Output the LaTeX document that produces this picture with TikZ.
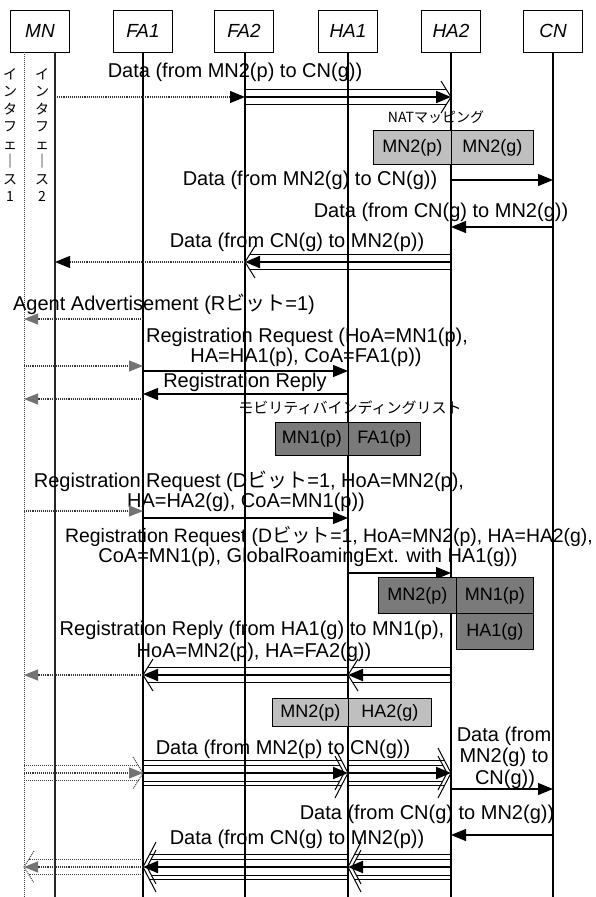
\documentclass[tikz,border=0pt]{standalone}
\usepackage{fontspec}
\setmainfont{Liberation Sans}
\newfontfamily\jp{Noto Sans CJK JP}
\usetikzlibrary{arrows.meta}
\newcommand\jt[1]{{\jp #1}}
\begin{document}
\begin{tikzpicture}[x=1pt,y=1pt,
  hdr/.style={draw, line width=0.9pt, minimum width=59pt, minimum height=42pt, inner sep=0pt, font=\fontsize{19}{20}\selectfont\itshape},
  life/.style={line width=1.2pt},
  ifline/.style={line width=1pt, densely dotted, black!75},
  lbl/.style={font=\fontsize{20}{22}\selectfont, inner sep=0pt, anchor=base},
  jlbl/.style={font=\jp\fontsize{14}{16}\selectfont, inner sep=0pt},
  vlbl/.style={font=\jp\fontsize{14}{17.5}\selectfont, inner sep=0pt, align=center, anchor=north},
  msg/.style={line width=1.2pt, -{Triangle[length=15pt,width=12pt]}},
  tmsg/.style={line width=2pt, -{Triangle[length=15pt,width=12pt]}},
  dmsg/.style={line width=1.1pt, densely dotted, black!80, -{Triangle[length=15pt,width=12pt,color=black,fill=black]}},
  gmsg/.style={line width=1.1pt, densely dotted, black!80, -{Triangle[length=14pt,width=11pt,color=black!55,fill=black!55]}},
  tunl/.style={line width=1pt},
  lcell/.style={draw, line width=0.8pt, fill=black!25, anchor=north west, inner sep=0pt, font=\fontsize{18}{20}\selectfont},
  dcell/.style={draw, line width=0.8pt, fill=black!52, anchor=north west, inner sep=0pt, font=\fontsize{18}{20}\selectfont}
]
\newcommand\tun[5][]{%
  \draw[tunl,#1] ([yshift=7.5pt]#2|-0,-#4) -- ([yshift=7.5pt,xshift={-(#5)*4.7pt}]#3|-0,-#4);
  \draw[tunl,#1] ([yshift=-7.5pt]#2|-0,-#4) -- ([yshift=-7.5pt,xshift={-(#5)*4.7pt}]#3|-0,-#4);
  \draw[tunl,#1] ([yshift=16pt,xshift={-(#5)*10pt}]#3|-0,-#4) -- (#3|-0,-#4) -- ([yshift=-16pt,xshift={-(#5)*10pt}]#3|-0,-#4);
}
\newcommand\btun[4]{%
  \draw[tunl] ([yshift=12.5pt]#1|-0,-#3) -- ([yshift=12.5pt,xshift={-(#4)*6.5pt}]#2|-0,-#3);
  \draw[tunl] ([yshift=-12.5pt]#1|-0,-#3) -- ([yshift=-12.5pt,xshift={-(#4)*6.5pt}]#2|-0,-#3);
  \draw[tunl] ([yshift=25pt,xshift={-(#4)*13pt}]#2|-0,-#3) -- (#2|-0,-#3) -- ([yshift=-25pt,xshift={-(#4)*13pt}]#2|-0,-#3);
  \draw[tunl] ([yshift=8pt]#1|-0,-#3) -- ([yshift=8pt,xshift={-(#4)*8.2pt}]#2|-0,-#3);
  \draw[tunl] ([yshift=-8pt]#1|-0,-#3) -- ([yshift=-8pt,xshift={-(#4)*8.2pt}]#2|-0,-#3);
  \draw[tunl] ([yshift=17pt,xshift={-(#4)*13pt}]#2|-0,-#3) -- ([xshift={-(#4)*4pt}]#2|-0,-#3) -- ([yshift=-17pt,xshift={-(#4)*13pt}]#2|-0,-#3);
  \draw[tmsg] (#1|-0,-#3) -- (#2|-0,-#3);
}
\fill[white] (0,0) rectangle (595,-897);
\useasboundingbox (0,0) rectangle (595,-897);

% headers
\node[hdr] (MN)  at (40,-31)  {MN};
\node[hdr] (FA1) at (143,-31) {FA1};
\node[hdr] (FA2) at (244,-31) {FA2};
\node[hdr] (HA1) at (348,-31) {HA1};
\node[hdr] (HA2) at (451,-31) {HA2};
\node[hdr] (CN)  at (553,-31) {CN};

\coordinate (lMN1) at (24,-52);
\coordinate (lMN2) at (55,-52);
\coordinate (lFA1) at (143,-52);
\coordinate (lFA2) at (245,-52);
\coordinate (lHA1) at (348,-52);
\coordinate (lHA2) at (451,-52);
\coordinate (lCN)  at (553,-52);

% lifelines
\draw[ifline] (lMN1) -- (lMN1|-0,-897);
\draw[line width=1.2pt, black!85] (lMN2) -- (lMN2|-0,-897);
\foreach \l in {lFA1,lFA2,lHA1,lHA2,lCN}{\draw[life] (\l) -- (\l|-0,-897);}

% vertical interface labels
\node[vlbl] (v1) at (10,-68) {イ\\ン\\タ\\フ\\ェ\\｜\\ス\\1};
\node[vlbl] (v2) at (42,-68) {イ\\ン\\タ\\フ\\ェ\\｜\\ス\\2};

% row 1
\node[lbl] (t1) at (235,-77) {Data (from MN2(p) to CN(g))};
\draw[dmsg] (lMN2|-0,-97) -- (lFA2|-0,-97);
\tun{lFA2}{lHA2}{97}{1}
\draw[tmsg] (lFA2|-0,-97) -- (lHA2|-0,-97);

% NAT mapping
\node[jlbl] (tNAT) at (436,-117) {NATマッピング};
\node[lcell, minimum width=78pt, minimum height=34pt] (natL) at (373,-130) {MN2(p)};
\node[lcell, minimum width=82pt, minimum height=34pt] (natR) at (451,-130) {MN2(g)};

\node[lbl] (t2) at (310,-185) {Data (from MN2(g) to CN(g))};
\draw[msg] (lHA2|-0,-180) -- (lCN|-0,-180);
\node[lbl] (t3) at (441,-217) {Data (from CN(g) to MN2(g))};
\draw[msg] (lCN|-0,-227) -- (lHA2|-0,-227);

\node[lbl] (t4) at (297,-247) {Data (from CN(g) to MN2(p))};
\tun{lHA2}{lFA2}{262}{-1}
\draw[tmsg] (lHA2|-0,-262) -- (lFA2|-0,-262);
\draw[dmsg] (lFA2|-0,-262) -- (lMN2|-0,-262);

% registration 1
\node[lbl] (t5) at (164,-310) {Agent Advertisement (R\jt{ビット}=1)};
\draw[gmsg] (lFA1|-0,-319) -- (lMN1|-0,-319);
\node[lbl] (t6a) at (307,-342) {Registration Request (HoA=MN1(p),};
\node[lbl] (t6b) at (306,-362) {HA=HA1(p), CoA=FA1(p))};
\draw[gmsg] (lMN1|-0,-366) -- (lFA1|-0,-366);
\draw[msg] (lFA1|-0,-371) -- (lHA1|-0,-371);
\node[lbl] (t7) at (245,-387) {Registration Reply};
\draw[msg] (lHA1|-0,-394) -- (lFA1|-0,-394);
\draw[gmsg] (lFA1|-0,-399) -- (lMN1|-0,-399);

\node[jlbl, font=\jp\fontsize{15}{17}\selectfont] (tMB) at (350,-408) {モビリティバインディングリスト};
\node[dcell, minimum width=73pt, minimum height=33pt] (mbL) at (275,-422) {MN1(p)};
\node[dcell, minimum width=72pt, minimum height=33pt] (mbR) at (348,-422) {FA1(p)};

% registration 2
\node[lbl] (t8a) at (249,-487) {Registration Request (D\jt{ビット}=1, HoA=MN2(p),};
\node[lbl] (t8b) at (246,-507) {HA=HA2(g), CoA=MN1(p))};
\draw[gmsg] (lMN1|-0,-511) -- (lFA1|-0,-511);
\draw[msg] (lFA1|-0,-518) -- (lHA1|-0,-518);
\node[lbl, font=\fontsize{19.4}{22}\selectfont] (t9a) at (329,-542) {Registration Request (D\jt{ビット}=1, HoA=MN2(p), HA=HA2(g),};
\node[lbl] (t9b) at (308,-562) {CoA=MN1(p), GlobalRoamingExt. with HA1(g))};
\draw[msg] (lHA1|-0,-573) -- (lHA2|-0,-573);

\node[dcell, minimum width=78pt, minimum height=36pt] (bL) at (378,-577) {MN2(p)};
\node[dcell, minimum width=77pt, minimum height=36pt] (bR) at (456,-577) {MN1(p)};
\node[dcell, minimum width=77pt, minimum height=36pt] (bH) at (456,-613) {HA1(g)};

\node[lbl] (t10a) at (252,-635) {Registration Reply (from HA1(g) to MN1(p),};
\node[lbl] (t10b) at (254,-657) {HoA=MN2(p), HA=FA2(g))};
\tun{lHA2}{lHA1}{675}{-1}
\draw[tmsg] (lHA2|-0,-675) -- (lHA1|-0,-675);
\tun{lHA1}{lFA1}{675}{-1}
\draw[tmsg] (lHA1|-0,-675) -- (lFA1|-0,-675);
\draw[gmsg] (lFA1|-0,-675) -- (lMN1|-0,-675);

\node[lcell, minimum width=76pt, minimum height=28pt] (hL) at (272,-698) {MN2(p)};
\node[lcell, minimum width=83pt, minimum height=28pt] (hR) at (348,-698) {HA2(g)};

% data after registration
\node[lbl] (t11) at (283,-754) {Data (from MN2(p) to CN(g))};
\node[lbl] (t12a) at (504,-741) {Data (from};
\node[lbl] (t12b) at (504,-762) {MN2(g) to};
\node[lbl] (t12c) at (505,-784) {CN(g))};
\tun[densely dotted, black!75]{lMN1}{lFA1}{773}{1}
\draw[gmsg] (lMN1|-0,-773) -- (lFA1|-0,-773);
\btun{lFA1}{lHA1}{773}{1}
\btun{lHA1}{lHA2}{773}{1}
\draw[msg] (lHA2|-0,-789) -- (lCN|-0,-789);

\node[lbl] (t13) at (427,-819) {Data (from CN(g) to MN2(g))};
\draw[msg] (lCN|-0,-835) -- (lHA2|-0,-835);
\node[lbl] (t14) at (297,-844) {Data (from CN(g) to MN2(p))};
\btun{lHA2}{lHA1}{867}{-1}
\btun{lHA1}{lFA1}{867}{-1}
\tun[densely dotted, black!75]{lFA1}{lMN1}{867}{-1}
\draw[gmsg] (lFA1|-0,-867) -- (lMN1|-0,-867);
\end{tikzpicture}
\end{document}
